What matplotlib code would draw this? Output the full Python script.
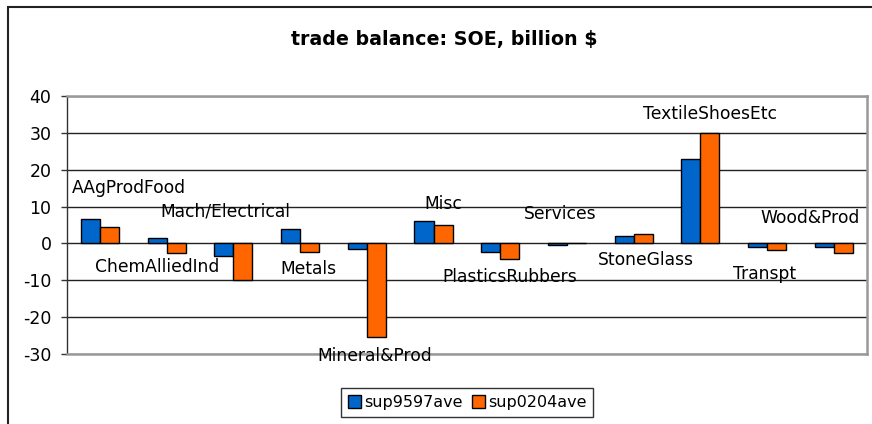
import matplotlib
matplotlib.use("Agg")
import matplotlib.pyplot as plt
import numpy as np
from matplotlib.patches import Rectangle

plt.rcParams["font.family"] = ["DejaVu Sans"]
plt.rcParams["axes.unicode_minus"] = False

categories = [
    "AAgProdFood", "ChemAlliedInd", "Mach/Electrical", "Metals",
    "Mineral&Prod", "Misc", "PlasticsRubbers", "Services",
    "StoneGlass", "TextileShoesEtc", "Transpt", "Wood&Prod",
]
sup9597ave = [6.7, 1.4, -3.5, 4.0, -1.5, 6.0, -2.3, -0.3, 2.1, 22.9, -1.0, -1.0]
sup0204ave = [4.4, -2.7, -9.8, -2.3, -25.5, 5.1, -4.2, 0.0, 2.5, 29.9, -1.8, -2.7]
yticks = [-30, -20, -10, 0, 10, 20, 30, 40]

# where excel dropped the category labels (offset in categories, height in data units)
label_dx = [0.43, -0.15, -0.12, 0.13, 0.12, 0.15, 0.15, -0.1, 0.18, 0.15, -0.03, -0.35]
label_y = [15.1, -6.5, 8.6, -7.0, -30.5, 10.7, -9.2, 7.9, -4.6, 35.0, -8.4, 6.9]

blue = "#0066cc"
orange = "#ff6600"

fig = plt.figure(figsize=(8.72, 4.24), dpi=100)
ax = fig.add_axes([66.7 / 872, 1 - 354 / 424, (867 - 66.7) / 872, (354 - 96) / 424])

x = np.arange(len(categories))
w = 0.285
ax.bar(x - w / 2, sup9597ave, w, color=blue, edgecolor="black", linewidth=1, label="sup9597ave", zorder=3)
ax.bar(x + w / 2, sup0204ave, w, color=orange, edgecolor="black", linewidth=1, label="sup0204ave", zorder=3)

for i, name in enumerate(categories):
    ax.text(x[i] + label_dx[i], label_y[i], name, ha="center", va="center", fontsize=12.3, zorder=4)

ax.set_xlim(-0.5, len(categories) - 0.5)
ax.set_ylim(-30, 40)
ax.set_yticks(yticks)
ax.set_xticks([])
ax.tick_params(axis="y", length=4.5, width=1, pad=6.5, labelsize=12.5, color="#333333")
ax.grid(axis="y", color="#222222", linewidth=1, zorder=1)
ax.set_axisbelow(True)

for s in ["top", "right", "bottom"]:
    ax.spines[s].set_color("#999999")
    ax.spines[s].set_linewidth(1.8)
ax.spines["left"].set_color("#333333")
ax.spines["left"].set_linewidth(1)

fig.text(444.6 / 872, 1 - 39 / 424, "trade balance: SOE, billion $", ha="center", va="center",
         fontsize=13.7, fontweight="bold")

# outer chart frame
fig.patches.append(Rectangle((8 / 872, -0.1), 1.2, 1 - 7 / 424 + 0.1, transform=fig.transFigure,
                             fill=False, edgecolor="#222222", linewidth=1.5))

leg = fig.legend(loc="center", bbox_to_anchor=(467 / 872, 1 - 402.5 / 424), ncol=2, fontsize=11.5,
                 frameon=True, fancybox=False, edgecolor="black", handlelength=0.8, handleheight=0.8,
                 handletextpad=0.2, columnspacing=0.6, borderpad=0.45)
leg.get_frame().set_linewidth(1)

fig.savefig("out.png", dpi=100)
